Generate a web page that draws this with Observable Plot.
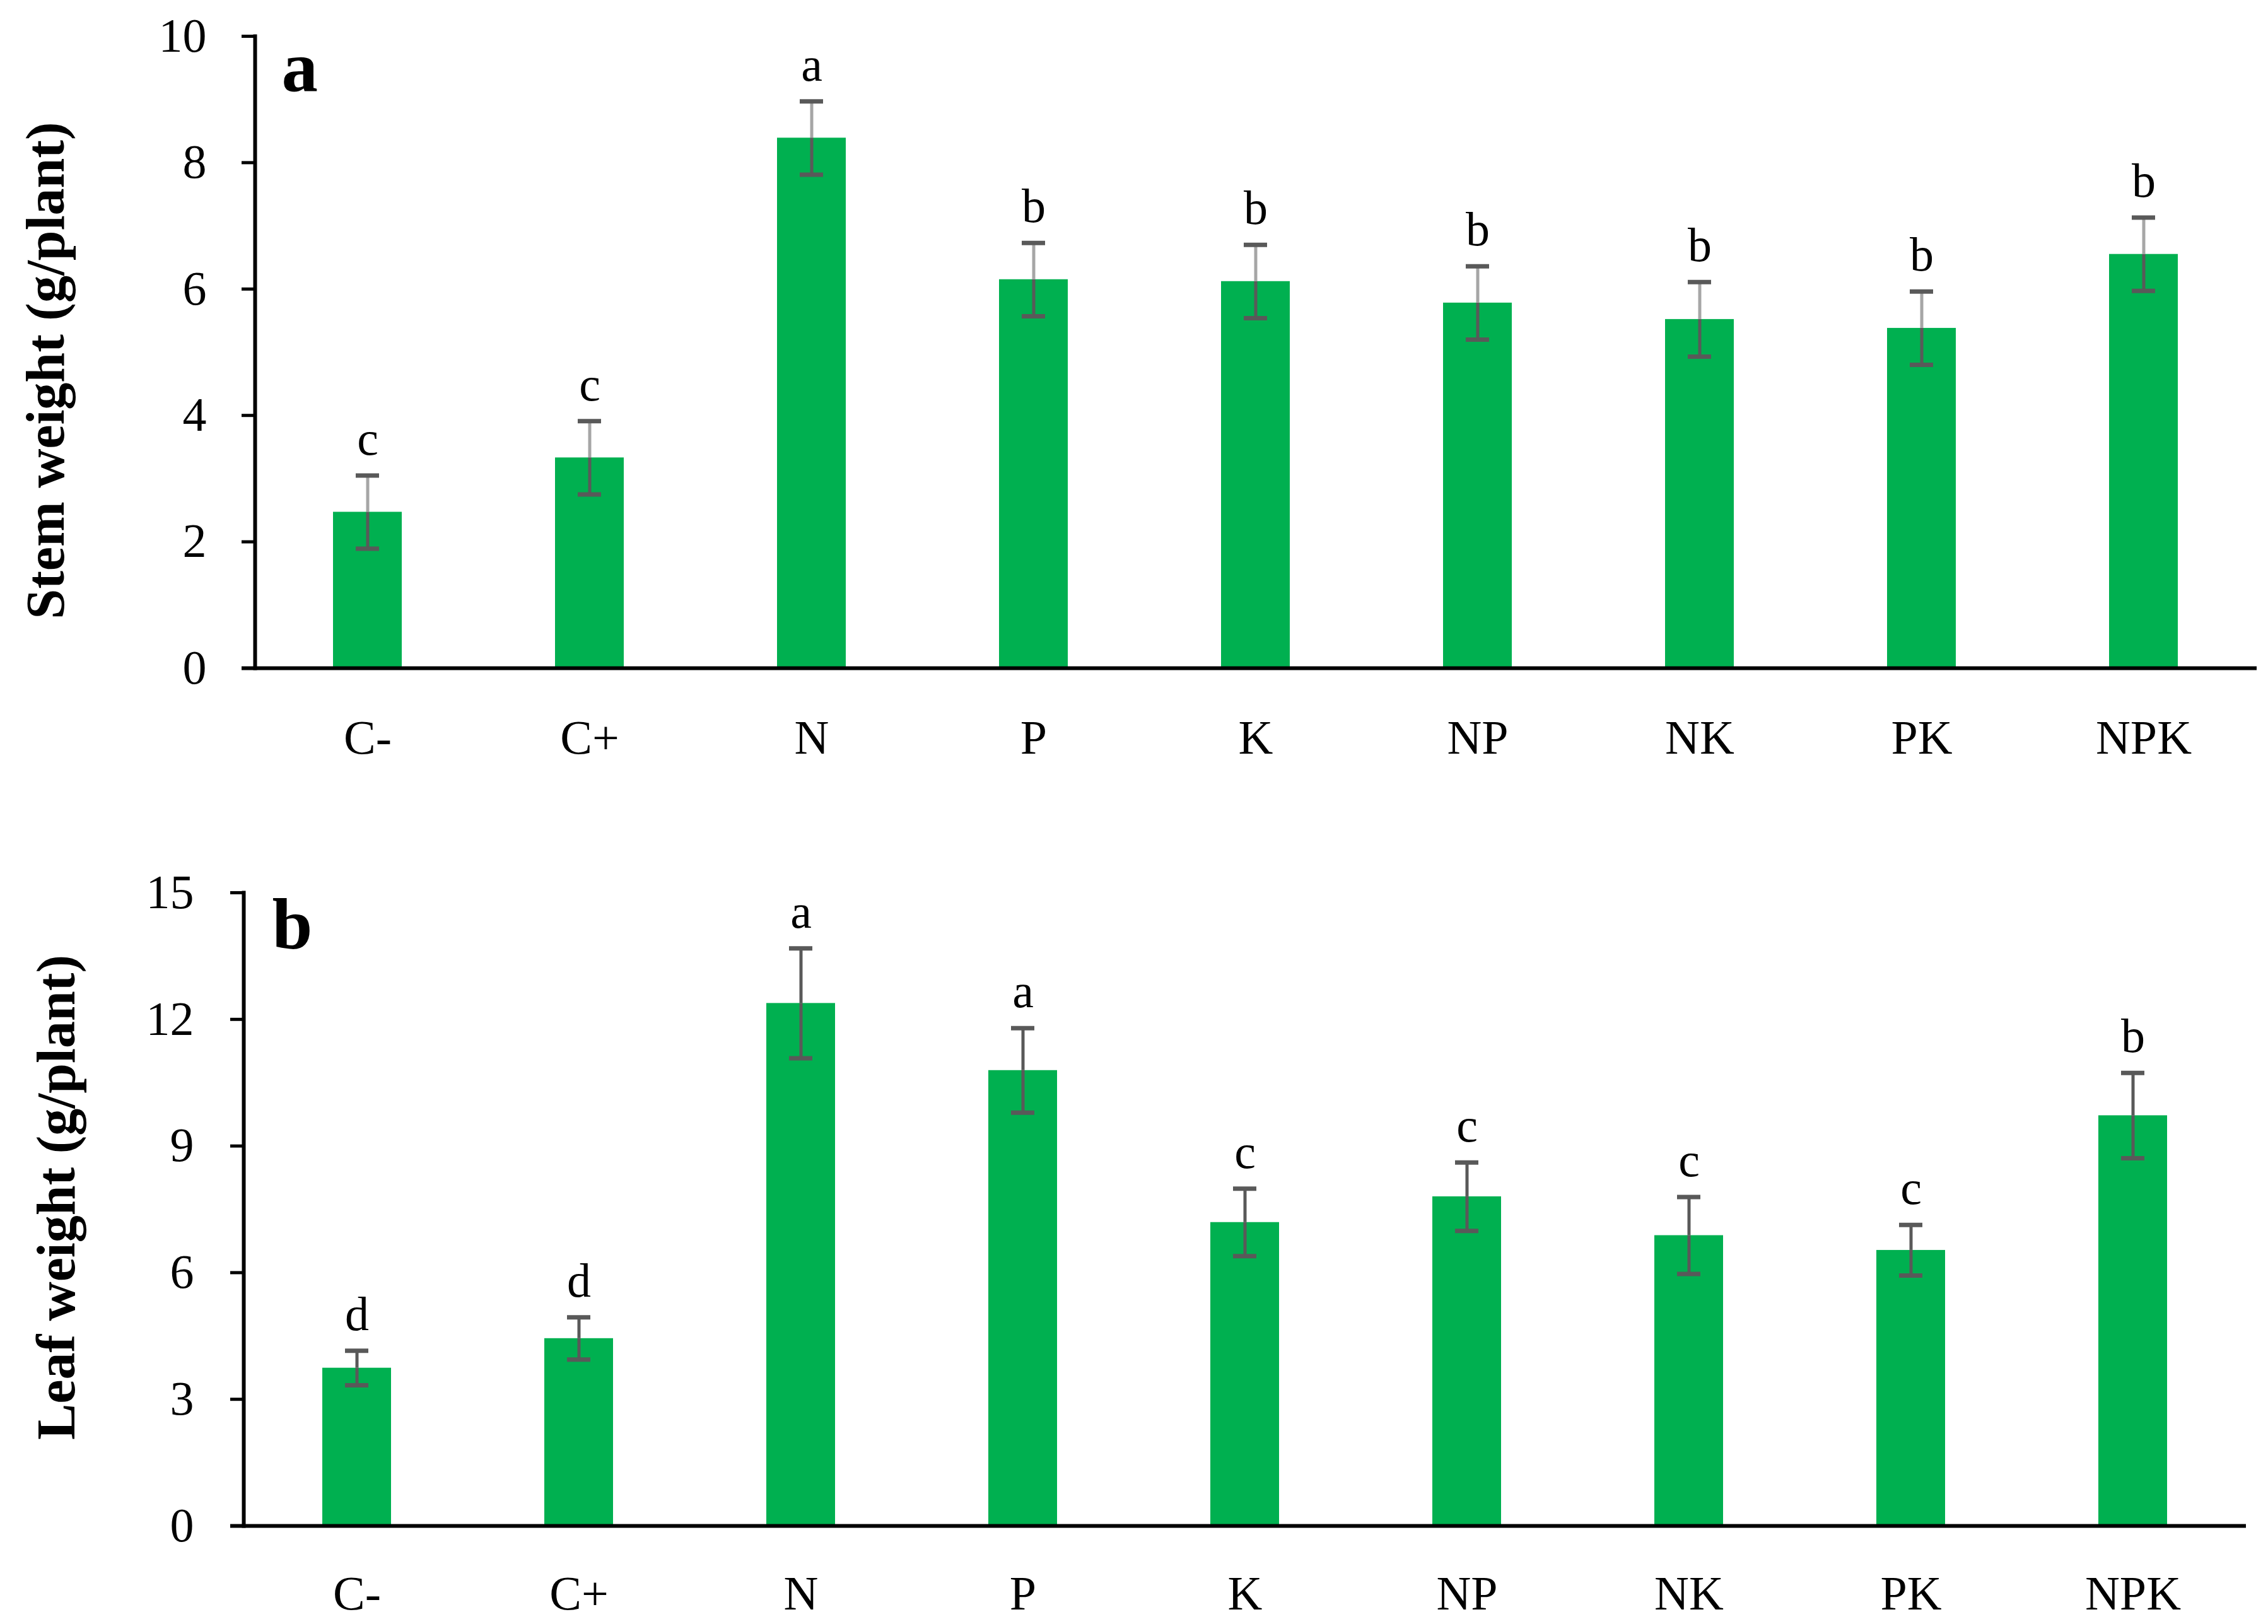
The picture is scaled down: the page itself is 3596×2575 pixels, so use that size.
<!DOCTYPE html>
<html><head><meta charset="utf-8">
<script src="https://cdn.jsdelivr.net/npm/d3@7"></script>
<script src="https://cdn.jsdelivr.net/npm/@observablehq/plot@0.6"></script>
<style>
html,body{margin:0;padding:0;background:#fff;}
#chart{width:3596px;height:2575px;position:relative;background:#fff;}
#chart svg{display:block;}
</style></head><body><div id="chart"></div>
<script>
const treatments = ["C-","C+","N","P","K","NP","NK","PK","NPK"];
const stemMean = [2.47, 3.33, 8.39, 6.15, 6.12, 5.78, 5.52, 5.38, 6.55];
const stemErr  = [0.58, 0.58, 0.58, 0.58, 0.58, 0.58, 0.59, 0.58, 0.58];
const stemLetters = ["c","c","a","b","b","b","b","b","b"];
const leafMean = [3.74, 4.44, 12.38, 10.79, 7.19, 7.80, 6.88, 6.53, 9.72];
const leafErr  = [0.41, 0.50, 1.30, 1.00, 0.80, 0.81, 0.91, 0.60, 1.01];
const leafLetters = ["d","d","a","a","c","c","c","c","b"];
const stemTicks = [0, 2, 4, 6, 8, 10];
const leafTicks = [0, 3, 6, 9, 12, 15];
const stemTitle = "Stem weight (g/plant)";
const leafTitle = "Leaf weight (g/plant)";

const FONT = "'Palatino Linotype','Book Antiqua',Palatino,'Liberation Serif',serif";
const GREEN = "#00b050";
const DARK = "#595959";
const LIGHT = "#a6a6a6";

function panel(o) {
  const rows = treatments.map((t, i) => ({t, mean: o.mean[i], err: o.err[i], letter: o.letters[i]}));
  return Plot.plot({
    width: 3596,
    height: o.height,
    marginTop: o.mt, marginBottom: o.mb, marginLeft: o.ml, marginRight: o.mr,
    style: {fontFamily: FONT, fontSize: "76px", color: "black", background: "white", overflow: "visible"},
    x: {type: "band", domain: treatments, paddingInner: 0.69, paddingOuter: 0.345, label: null},
    y: {domain: o.domain, label: null},
    marks: [
      Plot.barY(rows, {x: "t", y: "mean", fill: GREEN}),
      Plot.ruleX(rows, {x: "t", y1: d => d.mean - d.err, y2: "mean", stroke: DARK, strokeWidth: 5}),
      Plot.ruleX(rows, {x: "t", y1: "mean", y2: d => d.mean + d.err, stroke: o.upper, strokeWidth: 5}),
      Plot.tickY(rows, {x: "t", y: d => d.mean + d.err, stroke: DARK, strokeWidth: 7, insetLeft: 36, insetRight: 36}),
      Plot.tickY(rows, {x: "t", y: d => d.mean - d.err, stroke: DARK, strokeWidth: 7, insetLeft: 36, insetRight: 36}),
      Plot.text(rows, {x: "t", y: d => d.mean + d.err, text: "letter", lineAnchor: "bottom", dy: -33, fontSize: 76}),
      Plot.ruleY([0], {stroke: "black", strokeWidth: 6, insetLeft: -21}),
      Plot.frame({anchor: "left", stroke: "black", strokeWidth: 6}),
      Plot.axisY({ticks: o.ticks, tickSize: 21, tickPadding: o.tp, strokeWidth: 5, label: null, fontSize: 76, tickFormat: d => String(d)}),
      Plot.axisX({tickSize: 0, tickPadding: o.xtp, label: null, fontSize: 76}),
      Plot.text([o.tag], {frameAnchor: "top-left", textAnchor: "start", lineAnchor: "bottom", dx: o.tagDx, dy: o.tagDy, fontSize: 115, fontWeight: "bold"}),
      Plot.text([o.title], {frameAnchor: "left", textAnchor: "middle", rotate: -90, dx: o.titleDx, dy: o.titleDy, fontSize: 86, fontWeight: "bold"})
    ]
  });
}

const chart = document.getElementById("chart");
chart.append(panel({
  mean: stemMean, err: stemErr, letters: stemLetters, ticks: stemTicks, domain: [0, 10],
  height: 1250, mt: 57, mb: 191, ml: 404, mr: 18, tp: 56, xtp: 82,
  upper: LIGHT, tag: "a", tagDx: 42, tagDy: 86, title: stemTitle, titleDx: -331, titleDy: 29
}));
chart.append(panel({
  mean: leafMean, err: leafErr, letters: leafLetters, ticks: leafTicks, domain: [0, 15],
  height: 1325, mt: 165, mb: 156, ml: 386, mr: 35, tp: 58, xtp: 79,
  upper: DARK, tag: "b", tagDx: 45, tagDy: 88, title: leafTitle, titleDx: -296, titleDy: -19
}));
</script>
</body></html>
